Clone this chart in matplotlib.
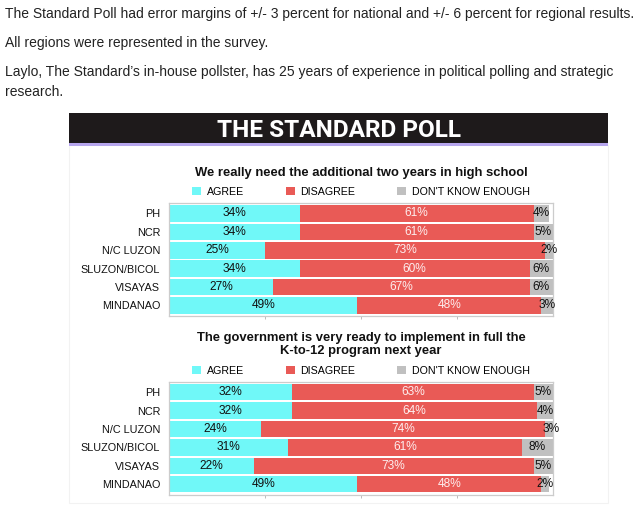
import matplotlib
matplotlib.use("Agg")
import matplotlib.pyplot as plt
from matplotlib.patches import Rectangle
import numpy as np

regions = ["PH", "NCR", "N/C LUZON", "SLUZON/BICOL", "VISAYAS", "MINDANAO"]

q1_agree = [34, 34, 25, 34, 27, 49]
q1_disagree = [61, 61, 73, 60, 67, 48]
q1_dontknow = [4, 5, 2, 6, 6, 3]

q2_agree = [32, 32, 24, 31, 22, 49]
q2_disagree = [63, 64, 74, 61, 73, 48]
q2_dontknow = [5, 4, 3, 8, 5, 2]

q1_title = "We really need the additional two years in high school"
q2_title = "The government is very ready to implement in full the\nK-to-12 program next year"

intro_lines = [
    "The Standard Poll had error margins of +/- 3 percent for national and +/- 6 percent for regional results.",
    "All regions were represented in the survey.",
    "Laylo, The Standard\u2019s in-house pollster, has 25 years of experience in political polling and strategic",
    "research.",
]

AGREE_C = "#70f8f8"
DIS_C = "#e95a56"
DK_C = "#c0c0c0"

W, H = 640, 513
plt.rcParams["font.family"] = ["Liberation Sans", "DejaVu Sans"]

fig = plt.figure(figsize=(W / 100, H / 100), dpi=100)
fig.patch.set_facecolor("white")


def fx(px):
    return px / W


def fy(py):
    return 1 - py / H


# article text above the graphic
for line, base in zip(intro_lines, [18.3, 47.3, 76, 96]):
    fig.text(fx(5), fy(base), line, fontsize=9.98, color="#222222", va="baseline", ha="left")

# faint panel and black header band
fig.patches.append(Rectangle((fx(69), fy(503)), fx(608) - fx(69), fy(145) - fy(503),
                             transform=fig.transFigure, facecolor="white", edgecolor="#f2f2f2",
                             lw=0.8, zorder=-5))
fig.patches.append(Rectangle((fx(69), fy(142.7)), fx(608.3) - fx(69), fy(112.7) - fy(142.7),
                             transform=fig.transFigure, facecolor="#1e1a1b", edgecolor="none",
                             zorder=-4))
fig.patches.append(Rectangle((fx(69), fy(145.7)), fx(608.3) - fx(69), fy(142.7) - fy(145.7),
                             transform=fig.transFigure, facecolor="#b7a6ee", edgecolor="none",
                             zorder=-4))
fig.text(fx(338.8), fy(137.3), "THE STANDARD POLL", fontsize=17.6, fontweight="bold",
         family="Roboto", color="white", va="baseline", ha="center")


def draw_panel(top, bottom, title, title_base, agree, disagree, dontknow):
    ax = fig.add_axes([fx(169.3), fy(bottom), fx(552.7) - fx(169.3), fy(top) - fy(bottom)])
    y = np.arange(len(regions))
    agree = np.array(agree)
    disagree = np.array(disagree)
    dontknow = np.array(dontknow)
    h = 0.9
    ax.barh(y, agree, height=h, color=AGREE_C, label="AGREE")
    ax.barh(y, disagree, left=agree, height=h, color=DIS_C, label="DISAGREE")
    ax.barh(y, dontknow, left=agree + disagree, height=h, color=DK_C, label="DON'T KNOW ENOUGH")
    for i in range(len(regions)):
        ax.text(agree[i] / 2, y[i], f"{agree[i]}%", ha="center", va="center",
                fontsize=8.6, color="#111111")
        ax.text(agree[i] + disagree[i] / 2, y[i], f"{disagree[i]}%", ha="center", va="center",
                fontsize=8.6, color="#fdeeee")
        ax.text(agree[i] + disagree[i] + dontknow[i] / 2, y[i], f"{dontknow[i]}%", ha="center",
                va="center", fontsize=8.6, color="#111111", clip_on=False)
    ax.set_xlim(0, 100)
    ax.set_ylim(len(regions) - 0.43, -0.58)
    ax.set_yticks(y)
    ax.set_yticklabels(regions, fontsize=7.8, color="#111111")
    ax.tick_params(axis="y", length=0, pad=6.5)
    ax.set_xticks([25, 50, 75])
    ax.set_xticklabels([])
    ax.tick_params(axis="x", length=2.5, width=0.7, color="#bbbbbb")
    for s in ax.spines.values():
        s.set_color("#cccccc")
        s.set_linewidth(0.9)
    hgt = bottom - top
    ax.legend(loc="center", bbox_to_anchor=(0.5, 1 + 11 / hgt), ncol=3, frameon=False,
              fontsize=7.7, handlelength=0.85, handleheight=0.85, handletextpad=0.55,
              columnspacing=3.85, borderaxespad=0, borderpad=0)
    # title_base is the baseline of the last title line
    ax.text(0.5, 1 + (top - title_base) / hgt, title, transform=ax.transAxes, ha="center",
            va="baseline", fontsize=9.4, fontweight="bold", color="#111111", linespacing=1.17)
    return ax


draw_panel(202.7, 316, q1_title, 176, q1_agree, q1_disagree, q1_dontknow)
draw_panel(381.5, 494.7, q2_title, 354.3, q2_agree, q2_disagree, q2_dontknow)

fig.savefig("out.png", dpi=100)
